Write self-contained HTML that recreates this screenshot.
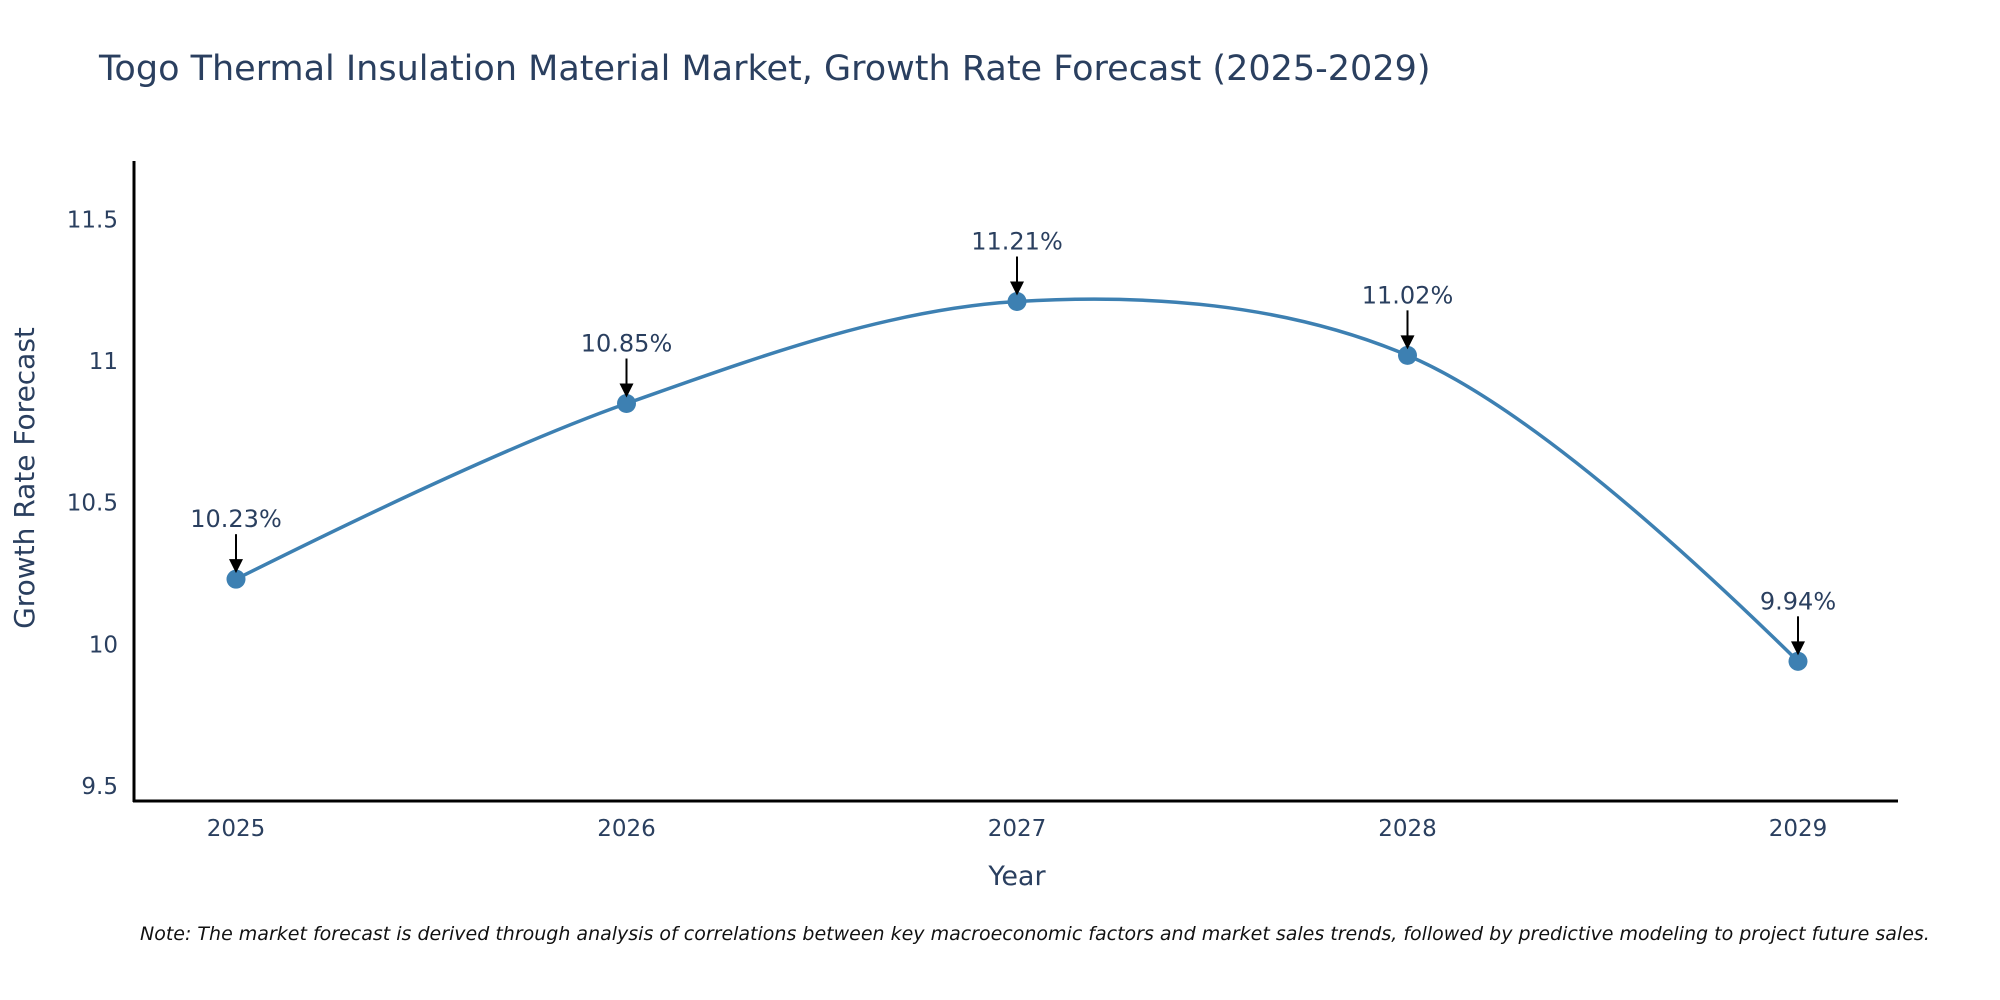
<!DOCTYPE html>
<html><head><meta charset="utf-8"><style>
body{margin:0;background:#fff;}
svg{display:block;font-family:"DejaVu Sans","Liberation Sans",sans-serif;}
</style></head><body>
<svg id="chart" width="2000" height="1000" viewBox="0 0 2000 1000">
<text x="99" y="80" font-size="35" fill="#2a3f5f">Togo Thermal Insulation Material Market, Growth Rate Forecast (2025-2029)</text>
<g id="yticks"></g>
<g id="xticks"></g>
<line x1="134" y1="161" x2="134" y2="802" stroke="#000" stroke-width="3"/>
<line x1="133" y1="801" x2="1898" y2="801" stroke="#000" stroke-width="3"/>
<path id="line" fill="none" stroke="#3d80b2" stroke-width="3.5"/>
<g id="marks"></g>
<text x="1017" y="885" font-size="27" fill="#2a3f5f" text-anchor="middle">Year</text>
<text transform="translate(34,478) rotate(-90)" font-size="28" fill="#2a3f5f" text-anchor="middle">Growth Rate Forecast</text>
<text x="140" y="940" font-size="19" font-style="italic" fill="#111">Note: The market forecast is derived through analysis of correlations between key macroeconomic factors and market sales trends, followed by predictive modeling to project future sales.</text>
</svg>
<script>
const categories = ["2025","2026","2027","2028","2029"];
const values = [10.23, 10.85, 11.21, 11.02, 9.94];
const valueLabels = ["10.23%","10.85%","11.21%","11.02%","9.94%"];
const yTickValues = [9.5, 10, 10.5, 11, 11.5];
const yTickLabels = ["9.5","10","10.5","11","11.5"];

const NS="http://www.w3.org/2000/svg";
const x0=236, x1=1798, yMin=9.447, yMax=11.706, yTop=161, yBot=801;
function xs(i){return x0+(x1-x0)*i/(categories.length-1);}
function ys(v){return yBot-(v-yMin)/(yMax-yMin)*(yBot-yTop);}
function mk(tag,attrs,parent){const e=document.createElementNS(NS,tag);for(const k in attrs)e.setAttribute(k,attrs[k]);parent.appendChild(e);return e;}

const yt=document.getElementById('yticks');
yTickValues.forEach((v,i)=>{
  const t=mk('text',{x:118,y:ys(v)+8,'font-size':23,fill:'#2a3f5f','text-anchor':'end'},yt);
  
  
  t.textContent=yTickLabels[i];
});
const xt=document.getElementById('xticks');
categories.forEach((c,i)=>{
  const t=mk('text',{x:xs(i),y:836,'font-size':23,fill:'#2a3f5f','text-anchor':'middle'},xt);
  
  
  t.textContent=c;
});

const pts=values.map((v,i)=>[xs(i),ys(v)]);
function tangent(p,c,n,s){
  const d1x=p[0]-c[0],d1y=p[1]-c[1],d2x=n[0]-c[0],d2y=n[1]-c[1];
  const d1a=Math.pow(d1x*d1x+d1y*d1y,0.25),d2a=Math.pow(d2x*d2x+d2y*d2y,0.25);
  const nx=(d2a*d2a*d1x-d1a*d1a*d2x)*s,ny=(d2a*d2a*d1y-d1a*d1a*d2y)*s;
  const den1=3*d2a*(d1a+d2a),den2=3*d1a*(d1a+d2a);
  return [[c[0]+nx/den1,c[1]+ny/den1],[c[0]-nx/den2,c[1]-ny/den2]];
}
const tg=[];
for(let i=1;i<pts.length-1;i++)tg.push(tangent(pts[i-1],pts[i],pts[i+1],1));
let d=`M${pts[0]}Q${tg[0][0]} ${pts[1]}`;
for(let i=1;i<pts.length-2;i++)d+=`C${tg[i-1][1]} ${tg[i][0]} ${pts[i+1]}`;
d+=`Q${tg[pts.length-3][1]} ${pts[pts.length-1]}`;
document.getElementById('line').setAttribute('d',d);

const g=document.getElementById('marks');
pts.forEach((p,i)=>{
  const c=mk('circle',{cx:p[0],cy:p[1],r:9.5,fill:'#3d80b2'},g);
  
  
  const l=mk('line',{x1:p[0],y1:p[1]-45,x2:p[0],y2:p[1]-18,stroke:'#000','stroke-width':2},g);
  
  
  const a=mk('polygon',{points:`${p[0]-7},${p[1]-20} ${p[0]+7},${p[1]-20} ${p[0]},${p[1]-6}`,fill:'#000'},g);
  
  
  const t=mk('text',{x:p[0],y:p[1]-52,'font-size':24,fill:'#2a3f5f','text-anchor':'middle'},g);
  
  
  t.textContent=valueLabels[i];
});
</script>
</body></html>
